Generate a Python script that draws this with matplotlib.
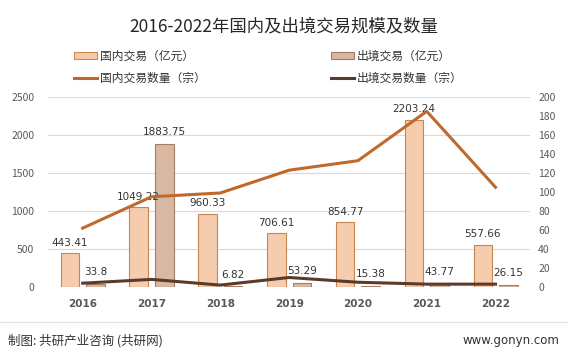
import matplotlib.pyplot as plt
import numpy as np

plt.rcParams['font.family'] = ['Noto Sans CJK SC', 'DejaVu Sans']

years = ['2016', '2017', '2018', '2019', '2020', '2021', '2022']
domestic_amount = [443.41, 1049.22, 960.33, 706.61, 854.77, 2203.24, 557.66]
outbound_amount = [33.8, 1883.75, 6.82, 53.29, 15.38, 43.77, 26.15]
domestic_count = [62, 95, 99, 123, 133, 185, 105]
outbound_count = [4, 8, 2, 10, 5, 3, 3]

c_dom_bar = '#F5CDAE'
c_dom_edge = '#C8864E'
c_out_bar = '#D8B8A2'
c_out_edge = '#A87C60'
c_dom_line = '#BF6A2C'
c_out_line = '#5A3A28'

fig = plt.figure(figsize=(5.68, 3.53), dpi=100)
ax = fig.add_axes([0.085, 0.187, 0.848, 0.538])
ax2 = ax.twinx()

x = np.arange(len(years))
w = 0.27
off = 0.185
b1 = ax.bar(x - off, domestic_amount, w, color=c_dom_bar, edgecolor=c_dom_edge, linewidth=0.8, zorder=2)
b2 = ax.bar(x + off, outbound_amount, w, color=c_out_bar, edgecolor=c_out_edge, linewidth=0.8, zorder=2)

for xi, v in zip(x - off, domestic_amount):
    ax.annotate(f'{v:g}', (xi, v), xytext=(0, 4), textcoords='offset points',
                ha='center', va='bottom', fontsize=7.5, color='#333333', family=['DejaVu Sans'], zorder=5)
for xi, v in zip(x + off, outbound_amount):
    ax.annotate(f'{v:g}', (xi, v), xytext=(0, 5), textcoords='offset points',
                ha='center', va='bottom', fontsize=7.5, color='#333333', family=['DejaVu Sans'], zorder=5)

l1, = ax2.plot(x, domestic_count, color=c_dom_line, linewidth=2.2, zorder=3)
l2, = ax2.plot(x, outbound_count, color=c_out_line, linewidth=2.2, zorder=3)

ax.set_xlim(-0.5, 6.5)
ax.set_ylim(0, 2500)
ax.set_yticks(range(0, 2501, 500))
ax2.set_ylim(0, 200)
ax2.set_yticks(range(0, 201, 20))
ax.set_xticks(x)
ax.set_xticklabels(years, fontsize=8, fontweight='bold', color='#333333', family=['DejaVu Sans'])
ax.grid(axis='y', color='#D9D9D9', linewidth=0.8, zorder=0)
ax.set_axisbelow(True)
for a in (ax, ax2):
    for s in a.spines.values():
        s.set_visible(False)
    a.tick_params(length=0, labelsize=7.5, labelcolor='#595959')
ax.tick_params(axis='x', pad=9)
ax.tick_params(axis='y', pad=10)
ax2.tick_params(axis='y', pad=6)

fig.text(0.5, 0.925, '2016-2022年国内及出境交易规模及数量', ha='center', va='center',
         fontsize=12.5, color='#262626')

fig.legend([b1, l1, b2, l2],
           ['国内交易（亿元）', '国内交易数量（宗）', '出境交易（亿元）', '出境交易数量（宗）'],
           ncol=2, loc='center left', bbox_to_anchor=(0.112, 0.809), frameon=False,
           fontsize=8.5, handlelength=1.9, handleheight=0.55, handletextpad=0.3,
           columnspacing=10.6, labelspacing=0.75, labelcolor='#333333')

fig.add_artist(plt.Line2D([0.0, 1.0], [0.088, 0.088], color='#E0E0E0', linewidth=0.8))
fig.text(0.014, 0.036, '制图: 共研产业咨询 (共研网)', ha='left', va='center',
         fontsize=9, color='#333333')
fig.text(0.985, 0.036, 'www.gonyn.com', ha='right', va='center',
         fontsize=8.5, color='#333333', family=['DejaVu Sans'])

fig.savefig('out.png', dpi=100, facecolor='white')
